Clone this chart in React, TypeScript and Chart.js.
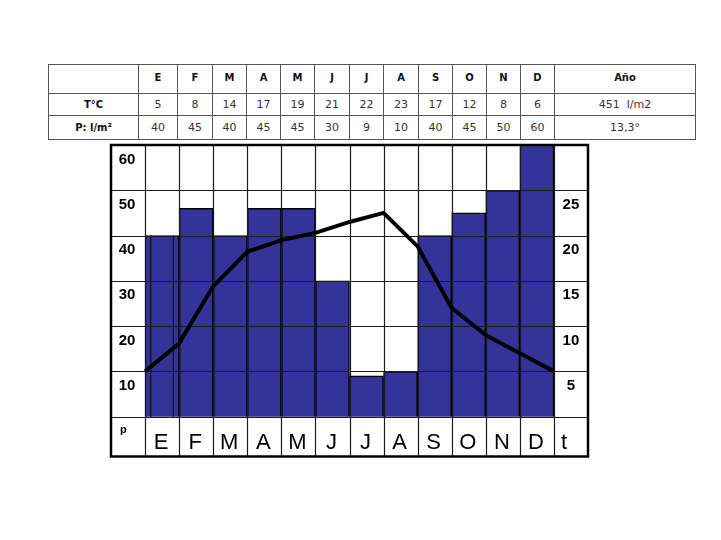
import React, { useEffect, useRef } from 'react';
import { Chart, registerables } from 'chart.js';

Chart.register(...registerables);

// ---- data ----
const months = ['E', 'F', 'M', 'A', 'M', 'J', 'J', 'A', 'S', 'O', 'N', 'D'];
const tableTemps = [5, 8, 14, 17, 19, 21, 22, 23, 17, 12, 8, 6];
const tablePrecip = [40, 45, 40, 45, 45, 30, 9, 10, 40, 45, 50, 60];
const yearHeader = 'Año';
const yearTempCell = '451  l/m2';
const yearPrecipCell = '13,3°';
const rowLabelTemp = 'T°C';
const rowLabelPrecip = 'P: l/m²';

// values
const precipBars = [40, 46, 40, 46, 46, 30, 9, 10, 40, 45, 50, 60];
const tempLine = [5, 8.1, 14.4, 18.2, 19.5, 20.3, 21.5, 22.5, 18.8, 12, 9, 7, 5];
const leftTicks = [60, 50, 40, 30, 20, 10];
const rightTicks = [25, 20, 15, 10, 5];
const precipAxisLabel = 'p';
const tempAxisLabel = 't';

// layout (not data)
const colWidths = [90, 39, 35, 34, 34, 34, 35, 34, 35, 34, 34, 34, 34, 141];
const Y_MIN = -8.8;
const Y_MAX = 60;

export default function App() {
  const ref = useRef<HTMLCanvasElement>(null);

  useEffect(() => {
    const canvas = ref.current;
    if (!canvas) return;

    const climoPlugin = {
      id: 'climo',
      beforeDatasetDraw(chart: any, args: any) {
        if (args.index !== 2) return;
        const { ctx } = chart;
        const x = chart.scales.x;
        const y = chart.scales.y;
        const top = y.getPixelForValue(Y_MAX);
        const bottom = y.getPixelForValue(Y_MIN);
        const left = x.getPixelForValue(0);
        const right = x.getPixelForValue(14);
        ctx.save();
        ctx.strokeStyle = '#1a1a1a';
        ctx.lineWidth = 1.2;
        ctx.beginPath();
        for (let i = 1; i < 14; i++) {
          const px = Math.round(x.getPixelForValue(i)) + 0.5;
          ctx.moveTo(px, top);
          ctx.lineTo(px, bottom);
        }
        for (const v of [50, 40, 30, 20, 10, 0]) {
          const py = Math.round(y.getPixelForValue(v)) + 0.5;
          ctx.moveTo(left, py);
          ctx.lineTo(right, py);
        }
        ctx.stroke();
        ctx.restore();
      },
      afterDraw(chart: any) {
        const { ctx } = chart;
        const x = chart.scales.x;
        const y = chart.scales.y;
        const y2 = chart.scales.y2;
        const top = y.getPixelForValue(Y_MAX);
        const bottom = y.getPixelForValue(Y_MIN);
        const left = x.getPixelForValue(0);
        const right = x.getPixelForValue(14);
        ctx.save();
        ctx.strokeStyle = '#000';
        ctx.lineWidth = 2.5;
        ctx.strokeRect(left, top, right - left, bottom - top);

        ctx.fillStyle = '#000';
        ctx.font = 'bold 15px "Liberation Sans", Arial, sans-serif';
        ctx.textAlign = 'center';
        ctx.textBaseline = 'middle';
        for (const v of leftTicks) {
          ctx.fillText(String(v), x.getPixelForValue(0.5) - 1, y.getPixelForValue(v) + 14.5);
        }
        for (const v of rightTicks) {
          ctx.fillText(String(v), x.getPixelForValue(13.5), y2.getPixelForValue(v) + 14.5);
        }
        ctx.font = 'bold 11px "Liberation Sans", Arial, sans-serif';
        ctx.textAlign = 'left';
        ctx.fillText(precipAxisLabel, x.getPixelForValue(0) + 9, y.getPixelForValue(0) + 13);

        ctx.font = '22px "Liberation Sans", Arial, sans-serif';
        ctx.textBaseline = 'alphabetic';
        ctx.textAlign = 'center';
        months.forEach((m, i) => {
          ctx.fillText(m, x.getPixelForValue(i + 1.5) - 1, bottom - 7.5);
        });
        ctx.textAlign = 'left';
        ctx.fillText(tempAxisLabel, x.getPixelForValue(13) + 7, bottom - 7.5);
        ctx.restore();
      },
    };

    const chart = new Chart(canvas, {
      type: 'bar',
      data: {
        datasets: [
          {
            type: 'bar',
            order: 2,
            data: precipBars.map((v, i) => ({ x: i + 1.5, y: v })),
            backgroundColor: '#333399',
            borderColor: '#000',
            borderWidth: 1.5,
            borderSkipped: 'start',
            barPercentage: 1,
            categoryPercentage: 1,
            xAxisID: 'x',
            yAxisID: 'y',
          } as any,
          {
            type: 'line',
            order: 1,
            data: [
              { x: 1.165, y: 0 },
              { x: 1.165, y: precipBars[0] },
              { x: 1.5, y: null },
              { x: 1.83, y: precipBars[0] },
              { x: 1.83, y: 0 },
            ],
            borderColor: '#111',
            borderWidth: 1.2,
            pointRadius: 0,
            spanGaps: false,
            fill: false,
            xAxisID: 'x',
            yAxisID: 'y',
          } as any,
          {
            type: 'line',
            order: 0,
            data: tempLine.map((v, i) => ({ x: i + 1, y: v })),
            borderColor: '#000',
            borderWidth: 4,
            pointRadius: 0,
            tension: 0,
            fill: false,
            xAxisID: 'x',
            yAxisID: 'y2',
          } as any,
        ],
      },
      options: {
        responsive: false,
        animation: false,
        layout: { padding: { left: 11, top: 10, right: 12, bottom: 13.5 } },
        plugins: { legend: { display: false }, tooltip: { enabled: false } },
        events: [],
        scales: {
          x: { type: 'linear', min: 0, max: 14, offset: false, display: false, ticks: { stepSize: 1 } },
          y: { type: 'linear', min: Y_MIN, max: Y_MAX, display: false },
          y2: { type: 'linear', min: Y_MIN / 2, max: Y_MAX / 2, display: false, position: 'right' },
        },
      } as any,
      plugins: [climoPlugin],
    });
    return () => chart.destroy();
  }, []);

  const cellBase: React.CSSProperties = {
    border: '1px solid #555',
    padding: 0,
    textAlign: 'center',
    verticalAlign: 'middle',
    overflow: 'hidden',
    whiteSpace: 'pre',
  };
  const hdr: React.CSSProperties = {
    ...cellBase,
    fontWeight: 'bold',
    fontSize: 10,
    color: '#111',
  };
  const val: React.CSSProperties = { ...cellBase, fontSize: 11, color: '#333' };

  return (
    <div style={{ background: '#fff' }}>
      <table
        style={{
          position: 'absolute',
          left: 48,
          top: 64,
          width: 647,
          height: 75,
          borderCollapse: 'collapse',
          tableLayout: 'fixed',
          fontFamily: '"DejaVu Sans", Verdana, sans-serif',
          border: '1px solid #222',
        }}
      >
        <colgroup>
          {colWidths.map((w, i) => (
            <col key={i} style={{ width: w }} />
          ))}
        </colgroup>
        <tbody>
          <tr style={{ height: 29 }}>
            <td style={hdr}></td>
            {months.map((m, i) => (
              <td key={i} style={{ ...hdr, paddingBottom: 4 }}>{m}</td>
            ))}
            <td style={{ ...hdr, paddingBottom: 4 }}>{yearHeader}</td>
          </tr>
          <tr style={{ height: 22 }}>
            <td style={hdr}>{rowLabelTemp}</td>
            {tableTemps.map((v, i) => (
              <td key={i} style={val}>{v}</td>
            ))}
            <td style={val}>{yearTempCell}</td>
          </tr>
          <tr style={{ height: 24 }}>
            <td style={hdr}>{rowLabelPrecip}</td>
            {tablePrecip.map((v, i) => (
              <td key={i} style={val}>{v}</td>
            ))}
            <td style={val}>{yearPrecipCell}</td>
          </tr>
        </tbody>
      </table>
      <canvas
        ref={ref}
        width={500}
        height={335}
        style={{ position: 'absolute', left: 100, top: 135, width: 500, height: 335 }}
      />
    </div>
  );
}
